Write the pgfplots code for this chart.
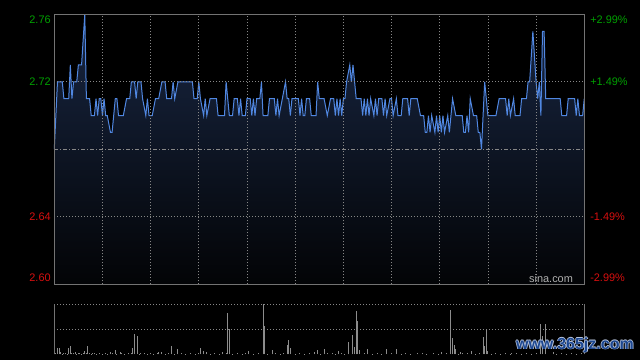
\documentclass[border=0pt]{standalone}
\usepackage{pgfplots}
\pgfplotsset{compat=1.18}
\usepackage{pgfplotstable}
\usepackage{fontspec}
\setmainfont{Liberation Sans}
\definecolor{linec}{RGB}{80,135,225}
\definecolor{gridc}{RGB}{135,135,135}
\definecolor{framec}{RGB}{115,115,115}
\definecolor{upc}{RGB}{0,160,0}
\definecolor{dnc}{RGB}{215,15,15}
\definecolor{filltop}{RGB}{24,38,66}
\definecolor{fillbot}{RGB}{3,4,6}
\definecolor{volc}{RGB}{140,140,140}
\definecolor{sinac}{RGB}{175,175,175}
\definecolor{wmblue}{RGB}{30,72,145}
\definecolor{wmglow}{RGB}{185,198,222}

\pgfplotstableread{
m p
0 2.68
2 2.72
5 2.72
6 2.71
9 2.71
10 2.73
11 2.71
12 2.72
14 2.72
15 2.73
17 2.73
19 2.76
20 2.71
22 2.71
23 2.70
25 2.70
26 2.71
27 2.70
28 2.71
29 2.71
30 2.70
31 2.71
32 2.70
33 2.70
35 2.69
36 2.69
37 2.70
38 2.71
39 2.71
40 2.70
43 2.70
45 2.71
47 2.71
48 2.72
50 2.72
51 2.71
52 2.72
54 2.72
55 2.71
57 2.70
58 2.71
59 2.70
61 2.70
63 2.71
65 2.71
67 2.72
69 2.72
70 2.71
73 2.71
74 2.72
75 2.71
77 2.72
86 2.72
87 2.71
89 2.71
90 2.72
91 2.71
93 2.70
94 2.71
95 2.70
97 2.71
101 2.71
102 2.70
106 2.70
107 2.72
108 2.71
109 2.70
111 2.70
112 2.71
114 2.71
115 2.70
116 2.71
117 2.70
119 2.70
120 2.71
122 2.71
123 2.70
124 2.71
125 2.70
126 2.71
128 2.71
129 2.72
130 2.70
133 2.70
134 2.71
137 2.71
138 2.70
139 2.71
140 2.70
142 2.71
144 2.72
145 2.71
146 2.71
147 2.70
148 2.71
152 2.71
153 2.70
154 2.71
155 2.70
156 2.70
157 2.71
159 2.71
160 2.70
163 2.70
164 2.72
165 2.71
168 2.71
170 2.70
172 2.71
174 2.71
175 2.70
176 2.71
177 2.70
178 2.71
179 2.70
180 2.71
181 2.71
182 2.72
184 2.73
185 2.72
186 2.73
188 2.71
191 2.71
192 2.70
193 2.71
194 2.70
195 2.71
196 2.70
197 2.71
199 2.70
200 2.71
201 2.70
202 2.71
204 2.71
205 2.70
206 2.71
207 2.70
209 2.71
210 2.71
211 2.70
213 2.71
214 2.70
216 2.70
217 2.71
220 2.71
221 2.70
222 2.71
226 2.71
228 2.70
230 2.70
231 2.69
232 2.69
233 2.70
234 2.69
235 2.70
237 2.69
238 2.70
239 2.69
240 2.70
241 2.69
242 2.70
243 2.69
245 2.70
246 2.69
248 2.71
250 2.70
254 2.70
255 2.69
256 2.69
257 2.70
258 2.69
259 2.71
261 2.70
263 2.70
264 2.69
265 2.69
266 2.68
268 2.72
269 2.71
270 2.70
275 2.70
277 2.71
281 2.71
282 2.70
283 2.71
284 2.70
286 2.71
287 2.70
290 2.70
291 2.71
294 2.71
295 2.72
296 2.72
298 2.75
300 2.72
301 2.71
302 2.72
303 2.70
304 2.75
305 2.75
306 2.71
315 2.71
316 2.70
319 2.70
320 2.71
324 2.71
325 2.70
326 2.71
327 2.70
329 2.70
330 2.71
}\pricetab

\pgfplotstableread{
m v
0 43
2 18
3 20
4 6
6 5
9 18
10 25
13 6
16 4
19 10
21 25
22 5
25 5
35 8
38 13
41 8
49 18
50 60
52 55
54 5
65 8
67 8
73 25
77 15
91 18
93 10
95 6
105 6
108 125
109 75
121 10
130 150
131 85
136 12
145 28
146 43
147 18
162 8
164 13
168 15
173 5
177 10
183 37
186 57
187 22
188 130
189 100
190 12
195 15
207 15
213 15
226 5
241 8
247 133
248 50
249 28
250 15
253 8
254 5
260 10
267 52
268 25
269 75
270 10
285 5
303 90
304 55
306 90
311 8
}\voltab

\pgfplotstableread{
m v
1 3
5 2
7 3
8 2
11 4
12 3
14 2
15 3
17 2
18 3
20 4
23 2
24 3
26 2
28 3
30 2
32 3
33 2
36 3
39 2
42 3
44 2
46 3
48 4
53 2
56 3
58 2
60 3
62 2
64 3
69 2
71 3
75 2
79 3
82 2
85 3
88 2
90 3
97 2
100 3
103 2
107 4
111 2
114 3
117 2
119 3
124 2
127 3
133 2
138 3
141 2
143 3
150 2
153 3
156 2
159 3
166 2
170 3
175 2
179 3
181 2
193 3
198 2
201 3
204 2
210 3
216 2
219 3
222 2
229 3
232 2
236 3
239 2
244 3
252 2
257 3
262 2
265 3
272 2
275 3
278 2
281 3
284 2
288 3
291 2
294 3
297 2
300 3
313 2
316 3
319 2
322 3
325 2
328 3
}\voltabsmall

\begin{document}
\begin{tikzpicture}[x=1pt,y=1pt]
\useasboundingbox (0,0) rectangle (480,270);
\fill[black] (0,0) rectangle (480,270);
\begin{axis}[
  scale only axis, width=397.5pt, height=202.5pt,
  at={(40.7pt,56.8pt)}, anchor=south west,
  xmin=0, xmax=330, ymin=2.5999, ymax=2.7601,
  xtick={30,60,...,300}, ytick={2.64,2.72},
  xticklabels={}, yticklabels={}, major tick length=0pt,
  grid=major,
  grid style={gridc, line width=0.6pt, dash pattern=on 0.75pt off 1.5pt},
  axis line style={framec, line width=0.75pt},
  axis on top, clip=false,
  every tick label/.style={font=\fontsize{8.2}{10}\selectfont},
]
\addplot[draw=none, top color=filltop, bottom color=fillbot] table[x=m,y=p]{\pricetab} \closedcycle;
\addplot[linec, line width=0.75pt, mark=none] table[x=m,y=p]{\pricetab};
\draw[gridc, line width=0.6pt, dash pattern=on 3pt off 1.5pt on 0.75pt off 1.5pt] (axis cs:0,2.68) -- (axis cs:330,2.68);
\begin{scope}[every node/.style={inner sep=0pt, font=\fontsize{8.2}{10}\selectfont}]
\node[anchor=north east, text=upc] at ([xshift=-2.5pt,yshift=-1.3pt]axis cs:0,2.7601) {2.76};
\node[anchor=east, text=upc] at ([xshift=-2.5pt]axis cs:0,2.72) {2.72};
\node[anchor=east, text=dnc] at ([xshift=-2.5pt]axis cs:0,2.64) {2.64};
\node[anchor=south east, text=dnc] at ([xshift=-2.5pt,yshift=1.6pt]axis cs:0,2.5999) {2.60};
\node[anchor=north west, text=upc] at ([xshift=4.3pt,yshift=-1.3pt]axis cs:330,2.7601) {+2.99\%};
\node[anchor=west, text=upc] at ([xshift=4.3pt]axis cs:330,2.72) {+1.49\%};
\node[anchor=west, text=dnc] at ([xshift=4.3pt]axis cs:330,2.64) {-1.49\%};
\node[anchor=south west, text=dnc] at ([xshift=4.3pt,yshift=1.6pt]axis cs:330,2.5999) {-2.99\%};
\node[anchor=south east, text=sinac] at ([xshift=-8.3pt,yshift=1.2pt]axis cs:330,2.5999) {sina.com};
\end{scope}
\end{axis}

\begin{axis}[
  scale only axis, width=397.5pt, height=37.5pt,
  at={(40.7pt,4.3pt)}, anchor=south west,
  xmin=0, xmax=330, ymin=0, ymax=150,
  axis lines=none, clip=false,
]
\addplot[ycomb, volc, line width=0.75pt, mark=none] table[x=m,y=v]{\voltabsmall};
\addplot[ycomb, volc, line width=0.75pt, mark=none] table[x=m,y=v]{\voltab};
\draw[gridc, line width=0.75pt, dash pattern=on 0.75pt off 1.5pt] (axis cs:0,150) -- (axis cs:330,150);
\draw[gridc, line width=0.75pt, dash pattern=on 0.75pt off 1.5pt] (axis cs:0,75) -- (axis cs:330,75);
\draw[framec, line width=0.75pt] (axis cs:0,0) -- (axis cs:0,150);
\draw[framec, line width=0.75pt] (axis cs:330,0) -- (axis cs:330,150);
\end{axis}

\begin{scope}[every node/.style={inner sep=0pt, font=\bfseries\fontsize{12}{14}\selectfont}]
\node[text=wmglow] at (431.8,11.25) {www.365jz.com};
\node[text=wmglow] at (430.6,11.25) {www.365jz.com};
\node[text=wmglow] at (431.2,11.85) {www.365jz.com};
\node[text=wmglow] at (431.2,10.65) {www.365jz.com};
\node[text=wmblue] at (431.2,11.25) {www.365jz.com};
\end{scope}
\end{tikzpicture}
\end{document}
